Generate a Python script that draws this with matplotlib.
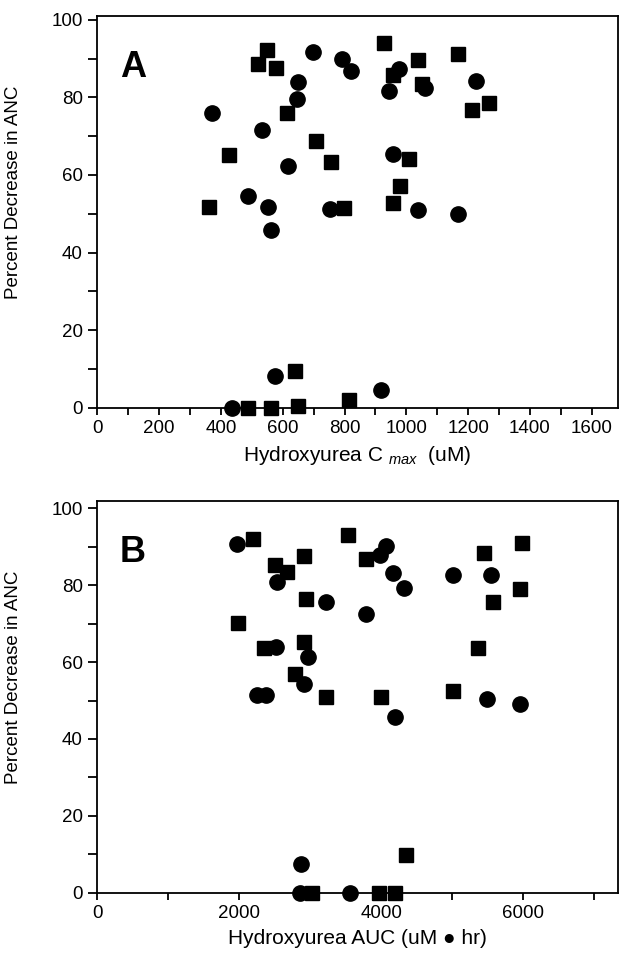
import matplotlib
matplotlib.use('Agg')
import matplotlib.pyplot as plt
from matplotlib.ticker import MultipleLocator

plt.rcParams['font.family'] = ['Liberation Sans', 'DejaVu Sans']
plt.rcParams['mathtext.fontset'] = 'custom'
plt.rcParams['mathtext.rm'] = 'Liberation Sans'
plt.rcParams['mathtext.it'] = 'Liberation Sans:italic'

# panel A: Cmax (uM) vs percent decrease in ANC
a_sq_x = [550, 520, 577, 929, 1036, 1167, 957, 1051, 1268, 1211, 613, 426, 706, 757,
          1008, 979, 361, 799, 957, 640, 813, 487, 561, 650]
a_sq_y = [92.1, 88.7, 87.5, 93.9, 89.6, 91.3, 85.7, 83.5, 78.5, 76.8, 76.1, 65.1, 68.8, 63.4,
          64.0, 57.2, 51.8, 51.4, 52.7, 9.5, 1.9, 0, 0, 0.5]
a_ci_x = [698, 791, 822, 977, 1059, 943, 649, 647, 1224, 372, 533, 616, 957, 487,
          553, 563, 752, 1036, 1167, 575, 919, 434]
a_ci_y = [91.6, 90.0, 86.7, 87.4, 82.3, 81.7, 83.9, 79.7, 84.1, 75.9, 71.7, 62.3, 65.3, 54.5,
          51.7, 45.9, 51.3, 51.0, 50.0, 8.2, 4.6, 0]

# panel B: AUC (uM*hr) vs percent decrease in ANC
b_sq_x = [2190, 3533, 2910, 2505, 2667, 3786, 5452, 5981, 5952, 5571, 2943, 1976, 2910, 2348,
          5357, 2781, 3219, 4000, 5005, 4348, 3024, 3967, 4190]
b_sq_y = [92.0, 93.1, 87.5, 85.2, 83.4, 86.9, 88.5, 90.9, 79.1, 75.7, 76.3, 70.2, 65.2, 63.6,
          63.6, 57.0, 50.9, 50.9, 52.6, 9.8, 0, 0, 0]
b_ci_x = [1971, 4062, 3976, 4157, 4319, 5005, 5543, 2533, 3219, 3786, 2510, 2967, 2905, 2252,
          2371, 4190, 5481, 5952, 2871, 2857, 3562]
b_ci_y = [90.8, 90.1, 87.9, 83.1, 79.2, 82.7, 82.7, 80.8, 75.7, 72.5, 64.0, 61.3, 54.4, 51.5,
          51.5, 45.8, 50.4, 49.2, 7.6, 0, 0]


def panel(ax, sx, sy, cx, cy, letter, xmax, ytop, xmajor, xminor, xlabel):
    ax.plot(sx, sy, 's', color='black', ms=9.5, clip_on=False, zorder=3)
    ax.plot(cx, cy, 'o', color='black', ms=11, clip_on=False, zorder=3)
    ax.set_xlim(0, xmax)
    ax.set_ylim(0, ytop)
    ax.xaxis.set_major_locator(MultipleLocator(xmajor))
    ax.xaxis.set_minor_locator(MultipleLocator(xminor))
    ax.yaxis.set_major_locator(MultipleLocator(20))
    ax.yaxis.set_minor_locator(MultipleLocator(10))
    ax.tick_params(which='both', direction='out', width=1.3, labelsize=13.5)
    ax.tick_params(axis='y', which='both', length=6.5, pad=4)
    ax.tick_params(axis='x', which='both', length=5, pad=4)
    for s in ax.spines.values():
        s.set_linewidth(1.3)
    ax.set_xlabel(xlabel, fontsize=15, labelpad=5)
    ax.set_ylabel('Percent Decrease in ANC', fontsize=13.5)
    ax.yaxis.set_label_coords(-0.145, 0.55)
    ax.text(0.043, 0.845, letter, transform=ax.transAxes, fontsize=26,
            fontweight='bold', ha='left', va='baseline')


fig = plt.figure(figsize=(6.19, 9.55), dpi=100)
ax1 = fig.add_axes([0.1574, 0.5731, 0.8410, 0.4102])
ax2 = fig.add_axes([0.1574, 0.0652, 0.8402, 0.4102])

panel(ax1, a_sq_x, a_sq_y, a_ci_x, a_ci_y, 'A', 1685, 101, 200, 100,
      r'Hydroxyurea C $_{\mathit{max}}$  (uM)')
panel(ax2, b_sq_x, b_sq_y, b_ci_x, b_ci_y, 'B', 7326, 101.9, 2000, 1000,
      'Hydroxyurea AUC (uM \u25cf hr)')

fig.savefig('out.png', dpi=100)
plt.close()
